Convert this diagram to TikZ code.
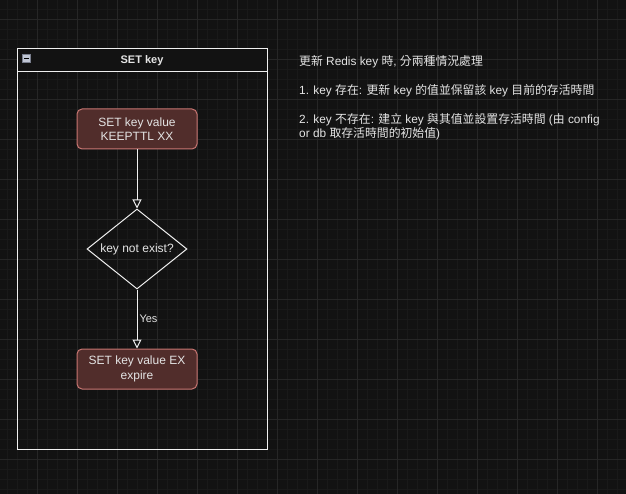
\documentclass[tikz,border=0pt]{standalone}
\usepackage{fontspec}
\setmainfont{Liberation Sans}
\newfontfamily\cjk{Noto Sans CJK TC}
\newcommand\zh[1]{{\cjk #1}}
\usetikzlibrary{shapes.geometric,arrows.meta}
\definecolor{bgc}{RGB}{18,18,18}
\definecolor{minorc}{RGB}{25,25,25}
\definecolor{majorc}{RGB}{38,38,38}
\definecolor{linec}{RGB}{240,240,240}
\definecolor{txtc}{RGB}{228,228,228}
\definecolor{boxfill}{RGB}{81,45,43}
\definecolor{boxdraw}{RGB}{200,118,114}
\tikzset{
  fs/.style={font=\fontsize{12}{14.4}\selectfont},
  stepbox/.style={draw=boxdraw, fill=boxfill, rounded corners=5pt, line width=1pt,
    minimum width=120pt, minimum height=40pt, inner sep=0pt, text=txtc, align=center, fs},
  decision/.style={diamond, draw=linec, line width=1pt, minimum width=100pt, minimum height=80pt, inner sep=0pt},
  flow/.style={draw=linec, line width=1pt, -{Triangle[open, length=9pt, width=9pt]}},
  note/.style={anchor=base west, inner sep=0pt, text=txtc, font=\fontsize{11.85}{14.2}\selectfont},
}
\begin{document}
\begin{tikzpicture}[x=1pt, y=-1pt]
\useasboundingbox (0,0) rectangle (626,494);
\fill[bgc] (0,0) rectangle (626,494);
% grid
\foreach \x in {7,17,...,617} \draw[minorc, line width=0.6pt] (\x,0) -- (\x,494);
\foreach \y in {9,19,...,489} \draw[minorc, line width=0.6pt] (0,\y) -- (626,\y);
\foreach \x in {37,77,...,597} \draw[majorc, line width=0.8pt] (\x,0) -- (\x,494);
\foreach \y in {19,59,...,459} \draw[majorc, line width=0.8pt] (0,\y) -- (626,\y);
% container
\draw[linec, line width=1pt] (17,72) rectangle (267,449);
\draw[linec, line width=1pt, fill=bgc] (17,49) rectangle (267,72);
\node[text=txtc, font=\fontsize{11}{13}\selectfont\bfseries] (title) at (142,61) {SET key};
\node[draw={rgb,255:red,120;green,125;blue,140}, fill={rgb,255:red,192;green,198;blue,212},
  minimum width=8pt, minimum height=8pt, inner sep=0pt] (icon) at (26.5,58.5) {};
\draw[black, line width=1.2pt] ([xshift=-2.5pt]icon.center) -- ([xshift=2.5pt]icon.center);
% flow
\node[stepbox] (b1) at (137,129) {SET key value\\KEEPTTL XX};
\node[decision] (d) at (137,249) {};
\node[text=txtc, fs] (dt) at (d.center) {key not exist?};
\node[stepbox] (b2) at (137,369) {SET key value EX\\expire};
\draw[flow] (b1) -- (d.north);
\draw[flow] (d.south) -- node[right, pos=0.5, inner sep=2pt, text=txtc, font=\fontsize{11}{13}\selectfont] (yes) {Yes} (b2);
% notes
\node[note] (t1) at (299,66) {\zh{更新} Redis key \zh{時}, \zh{分兩種情況處理}};
\node[note] (t2) at (299,95) {1. key \zh{存在}: \zh{更新} key \zh{的值並保留該} key \zh{目前的存活時間}};
\node[note] (t3) at (299,124) {2. key \zh{不存在}: \zh{建立} key \zh{與其值並設置存活時間} (\zh{由} config};
\node[note] (t4) at (299,138) {or db \zh{取存活時間的初始值})};
\end{tikzpicture}
\end{document}
